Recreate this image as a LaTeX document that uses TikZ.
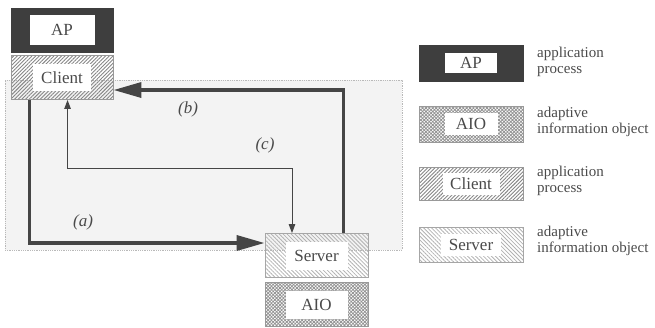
\documentclass[tikz,border=0pt]{standalone}
\usepackage{fontspec}
\setmainfont{Liberation Serif}
\usetikzlibrary{patterns.meta,arrows.meta}
\definecolor{dk}{HTML}{3E3E3E}
\definecolor{ln}{HTML}{454545}
\definecolor{txt}{HTML}{4A4A4A}
\definecolor{bg}{HTML}{F3F3F3}
\tikzset{
  lbl/.style={font=\fontsize{17}{19}\selectfont, text=txt, inner sep=0pt},
  leg/.style={font=\fontsize{15}{16}\selectfont, text=txt, anchor=west, align=left, inner sep=0pt},
  outer/.style={minimum width=102pt, minimum height=44pt, inner sep=0pt},
  lout/.style={minimum width=104pt, minimum height=35pt, inner sep=0pt},
  apfill/.style={draw=dk, fill=dk},
  clfill/.style={draw=gray!80, line width=0.6pt, pattern={Lines[angle=45,distance=2.6pt,line width=0.9pt]}, pattern color=gray!95},
  svfill/.style={draw=gray!70, line width=0.6pt, pattern={Lines[angle=-45,distance=2.8pt,line width=0.8pt]}, pattern color=gray!60},
  aiofill/.style={draw=gray!80, line width=0.6pt, pattern={Hatch[angle=45,distance=2.4pt,line width=0.8pt]}, pattern color=gray!85},
  inbox/.style={fill=white, minimum width=#1, minimum height=27pt},
  thick arrow/.style={draw=ln, line width=3.5pt, -{Triangle[length=28pt,width=15pt]}},
  thin arrow/.style={draw=ln, line width=1pt, {Triangle[length=9pt,width=6.5pt]}-{Triangle[length=9pt,width=6.5pt]}},
  flow/.style={font=\fontsize{17}{19}\selectfont\itshape, text=txt, inner sep=0pt}
}
\begin{document}
\begin{tikzpicture}[x=1pt,y=-1pt]
\useasboundingbox (0,0) rectangle (655,327);
% shaded region
\node[draw=gray!55, densely dotted, line width=0.8pt, fill=bg, minimum width=397pt, minimum height=170pt, inner sep=0pt] (region) at (203.5,165) {};
% left side
\node[outer, apfill] (AP) at (62,30) {};
\node[lbl, inbox=66pt, minimum height=31pt, draw=dk, line width=0.5pt] (APi) at (AP) {AP};
\node[outer, clfill] (Client) at (62,77.5) {};
\node[lbl, inbox=58pt] (Clienti) at (Client) {Client};
\node[outer, minimum width=103pt, svfill] (Server) at (316.5,255.5) {};
\node[lbl, inbox=62pt, minimum height=28pt] (Serveri) at (Server) {Server};
\node[outer, minimum width=103pt, aiofill] (AIO) at (316.5,304.5) {};
\node[lbl, inbox=62pt, minimum height=28pt] (AIOi) at (AIO) {AIO};
% arrows
\draw[thick arrow] ([xshift=19pt]Client.south west) |- ([yshift=12.5pt]Server.west);
\draw[thick arrow] ([xshift=-25pt]Server.north east) |- ([yshift=-12.5pt]Client.east);
\draw[thin arrow] ([xshift=57pt]Client.south west) -- ++(0,68.5) -| ([xshift=-24.5pt]Server.north);
\node[flow] (la) at (83,222) {(a)};
\node[flow] (lb) at (188,109) {(b)};
\node[flow] (lc) at (265,145) {(c)};
% legend
\node[lout, minimum height=36pt, apfill] (LAP) at (471,63) {};
\node[lbl, inbox=53pt, minimum height=21pt, draw=dk, line width=0.5pt] (LAPi) at (LAP) {AP};
\node[leg] (tAP) at (537,62) {application\\process};
\node[lout, minimum height=36pt, aiofill] (LAIO) at (471,124) {};
\node[lbl, inbox=53pt, minimum height=22pt] (LAIOi) at (LAIO) {AIO};
\node[leg] (tAIO) at (537,122) {adaptive\\information object};
\node[lout, minimum height=33pt, clfill] (LCl) at (471,184) {};
\node[lbl, inbox=57pt, minimum height=22pt] (LCli) at (LCl) {Client};
\node[leg] (tCl) at (537,181) {application\\process};
\node[lout, minimum height=35pt, svfill] (LSv) at (471,244.5) {};
\node[lbl, inbox=60pt, minimum height=22pt] (LSvi) at (LSv) {Server};
\node[leg] (tSv) at (537,241) {adaptive\\information object};
\end{tikzpicture}
\end{document}
